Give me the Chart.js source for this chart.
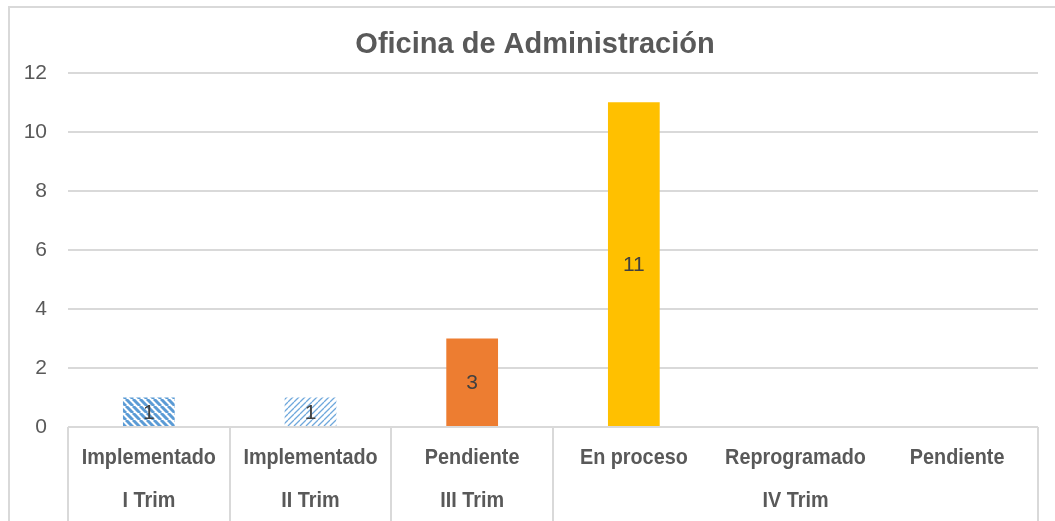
<!DOCTYPE html>
<html>
<head>
<meta charset="utf-8">
<script src="https://cdn.jsdelivr.net/npm/chart.js"></script>
<style>
  html, body { margin: 0; padding: 0; background: #fff; overflow: hidden; }
  #wrap { position: relative; width: 1055px; height: 521px; overflow: hidden; }
  #frame { position: absolute; left: 8px; top: 6px; width: 1100px; height: 600px; border: 2px solid #d9d9d9; box-sizing: border-box; }
  canvas { position: absolute; left: 0; top: 0; }
</style>
</head>
<body>
<div id="wrap">
  <div id="frame"></div>
  <canvas id="chart" width="1070" height="521"></canvas>
</div>
<script>
const title = 'Oficina de Administración';
const estados = ['Implementado', 'Implementado', 'Pendiente', 'En proceso', 'Reprogramado', 'Pendiente'];
const trimestres = ['I Trim', 'II Trim', 'III Trim', 'IV Trim'];
const trimIndex = [0, 1, 2, 3, 3, 3]; // trimestre for each bar
const valores = [1, 1, 3, 11, 0, 0];
const yTicks = [0, 2, 4, 6, 8, 10, 12];

const grey = '#595959';
const sans = "'Liberation Sans', Arial, sans-serif";

function stripes(size, width, color, down) {
  const c = document.createElement('canvas');
  c.width = size; c.height = size;
  const g = c.getContext('2d');
  g.fillStyle = '#fff';
  g.fillRect(0, 0, size, size);
  g.strokeStyle = color;
  g.lineWidth = width;
  g.beginPath();
  for (let k = -1; k <= 1; k++) {
    if (down) {
      g.moveTo(k * size, 0); g.lineTo(k * size + size, size);
    } else {
      g.moveTo(k * size, size); g.lineTo(k * size + size, 0);
    }
  }
  g.stroke();
  return g.createPattern(c, 'repeat');
}

const ctx = document.getElementById('chart').getContext('2d');
const colors = [
  stripes(7, 3, '#5b9bd5', true),
  stripes(6, 1.3, '#6fa8dc', false),
  '#ed7d31', '#ffc000', '#a5a5a5', '#4472c4'
];

// value labels inside bars
const valueLabels = {
  id: 'valueLabels',
  afterDatasetsDraw(chart) {
    const c = chart.ctx;
    const meta = chart.getDatasetMeta(0);
    c.save();
    c.font = '21px ' + sans;
    c.fillStyle = '#404040';
    c.textAlign = 'center';
    c.textBaseline = 'middle';
    meta.data.forEach((bar, i) => {
      const v = valores[i];
      if (!v) return;
      c.fillText(String(v), bar.x, (bar.y + bar.base) / 2 + 1);
    });
    c.restore();
  }
};

// narrow text (Arial Narrow look)
function narrowText(c, text, x, y) {
  c.save();
  c.translate(x, y);
  c.scale(0.9, 1);
  c.fillText(text, 0, 0);
  c.restore();
}

// two-row category axis: estados + trimestres, with group separators
const groupAxis = {
  id: 'groupAxis',
  afterDraw(chart) {
    const x = chart.scales.x;
    const top = chart.chartArea.bottom;
    const c = chart.ctx;
    c.save();
    c.strokeStyle = '#d9d9d9';
    c.lineWidth = 2;
    const bounds = [-0.5];
    for (let i = 1; i < trimIndex.length; i++) {
      if (trimIndex[i] !== trimIndex[i - 1]) bounds.push(i - 0.5);
    }
    bounds.push(trimIndex.length - 0.5);
    bounds.forEach(b => {
      const px = Math.round(x.getPixelForValue(b));
      c.beginPath();
      c.moveTo(px, top);
      c.lineTo(px, chart.height);
      c.stroke();
    });
    c.font = 'bold 22px ' + sans;
    c.fillStyle = grey;
    c.textAlign = 'center';
    c.textBaseline = 'middle';
    estados.forEach((e, i) => narrowText(c, e, x.getPixelForValue(i), 458));
    trimestres.forEach((t, k) => {
      const idx = trimIndex.map((g, i) => g === k ? i : -1).filter(i => i >= 0);
      const mid = (idx[0] + idx[idx.length - 1]) / 2;
      narrowText(c, t, x.getPixelForValue(mid), 501);
    });
    c.restore();
  }
};

new Chart(ctx, {
  type: 'bar',
  data: {
    labels: estados,
    datasets: [{
      data: valores,
      backgroundColor: colors,
      categoryPercentage: 1,
      barPercentage: 0.32
    }]
  },
  options: {
    responsive: false,
    animation: false,
    layout: { padding: 0 },
    plugins: {
      legend: { display: false },
      tooltip: { enabled: false },
      title: {
        display: true,
        text: title,
        color: grey,
        font: { family: sans, size: 29, weight: 'bold' },
        padding: { top: 28, bottom: 10 }
      }
    },
    scales: {
      y: {
        min: 0,
        max: 12,
        afterBuildTicks(scale) { scale.ticks = yTicks.map(v => ({ value: v })); },
        afterFit(scale) { scale.width = 68; },
        border: { display: false },
        grid: { color: '#d9d9d9', lineWidth: 2, drawTicks: false },
        ticks: { color: grey, font: { family: sans, size: 21 }, padding: 21 }
      },
      // empty right-hand space so the title centres on the frame
      yRight: {
        type: 'linear',
        position: 'right',
        afterFit(scale) { scale.width = 32; },
        border: { display: false },
        grid: { display: false },
        ticks: { display: false }
      },
      x: {
        afterFit(scale) { scale.height = 94; },
        border: { display: false },
        grid: { display: false },
        ticks: { display: false }
      }
    }
  },
  plugins: [valueLabels, groupAxis]
});
</script>
</body>
</html>
